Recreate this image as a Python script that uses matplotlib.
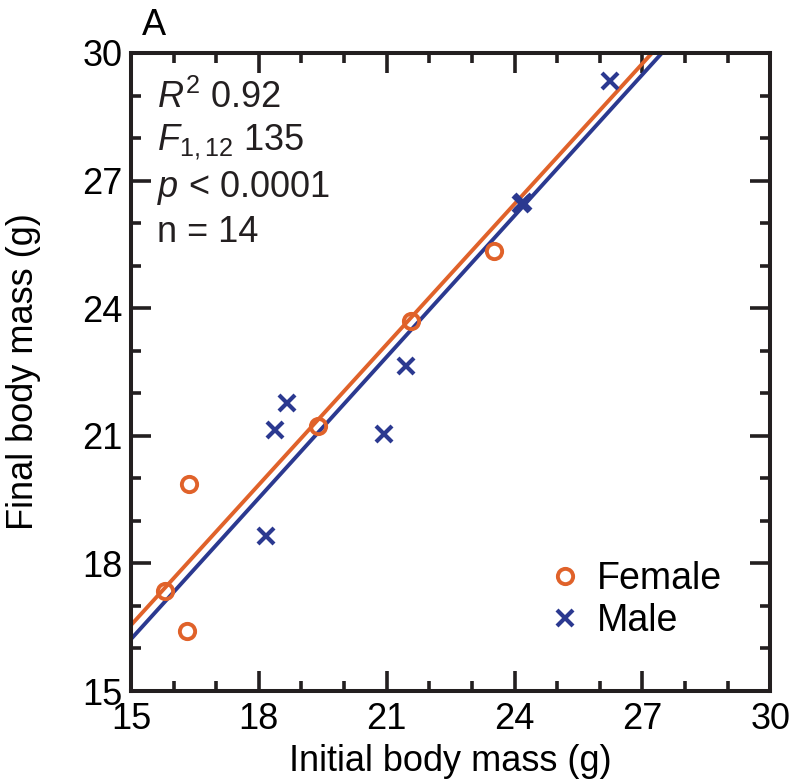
import matplotlib
matplotlib.use("Agg")
import numpy as np
import matplotlib.pyplot as plt
from matplotlib.ticker import MultipleLocator

plt.rcParams['font.family'] = ['Liberation Sans', 'DejaVu Sans']
plt.rcParams['mathtext.fontset'] = 'custom'
plt.rcParams['mathtext.rm'] = 'Liberation Sans'
plt.rcParams['mathtext.it'] = 'Liberation Sans:italic'

# Data
female_x = [15.80, 16.36, 16.31, 19.39, 21.57, 23.52]
female_y = [17.35, 19.87, 16.41, 21.24, 23.71, 25.35]
male_x = [26.24, 24.15, 24.20, 21.46, 20.94, 18.66, 18.38, 18.17]
male_y = [29.33, 26.46, 26.50, 22.65, 21.05, 21.78, 21.14, 18.65]

# Fitted lines (slope, intercept at x = 15)
female_fit = (1.100, 16.55)
male_fit = (1.106, 16.22)

orange = "#E0622A"
blue = "#2B3990"
fs = 26

fig = plt.figure(figsize=(7.94, 7.84), dpi=100)
ax = fig.add_axes([0.165, 0.1186, 0.805, 0.8138])

xs = np.array([15, 30])
ax.plot(xs, female_fit[1] + female_fit[0] * (xs - 15), color=orange, lw=2.8, zorder=2)
ax.plot(xs, male_fit[1] + male_fit[0] * (xs - 15), color=blue, lw=2.8, zorder=2)

ax.plot(female_x, female_y, 'o', ms=11, mfc='none', mec=orange, mew=2.8,
        label="Female", zorder=3)
ax.plot(male_x, male_y, 'x', ms=12, mec=blue, mew=3, label="Male", zorder=3)

ax.set_xlim(15, 30)
ax.set_ylim(15, 30)
ax.xaxis.set_major_locator(MultipleLocator(3))
ax.yaxis.set_major_locator(MultipleLocator(3))
ax.xaxis.set_minor_locator(MultipleLocator(1))
ax.yaxis.set_minor_locator(MultipleLocator(1))
ax.tick_params(which='both', direction='in', top=True, right=True,
               labelsize=fs, width=2.6, color='#231f20', pad=6)
ax.tick_params(axis='x', which='both', pad=8)
ax.tick_params(which='major', length=14.5)
ax.tick_params(which='minor', length=7.5)
for s in ax.spines.values():
    s.set_linewidth(2.9)
    s.set_color('#231f20')

ax.set_xlabel("Initial body mass (g)", fontsize=fs, labelpad=5)
ax.set_ylabel("Final body mass (g)", fontsize=fs, labelpad=30)

stats = [r"$R^2$ 0.92", r"$F_{1,12}$ 135", r"$p$ < 0.0001", "n = 14"]
for i, s in enumerate(stats):
    ax.text(0.04, 0.93 - i * 0.0705, s, transform=ax.transAxes,
            fontsize=fs, va='center', ha='left', color='#231f20')

ax.legend(loc='lower right', bbox_to_anchor=(0.978, 0.029), frameon=False,
          fontsize=27, handletextpad=0.25, labelspacing=0.15, handlelength=1.2)

fig.text(0.179, 0.968, "A", fontsize=fs, va='center', ha='left')

fig.savefig("out.png", dpi=100)
